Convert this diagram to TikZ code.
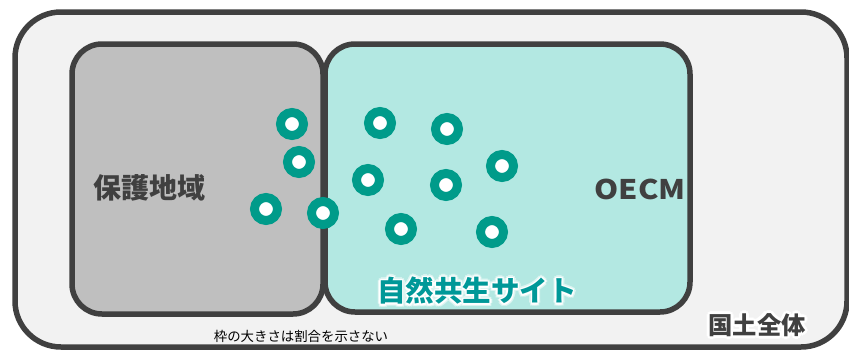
\documentclass[tikz,border=0pt]{standalone}
\usepackage{fontspec}
\setmainfont{Noto Sans CJK JP}
\newfontfamily\jp{Noto Sans CJK JP}
\definecolor{frame}{HTML}{404040}
\definecolor{bgout}{HTML}{F2F2F2}
\definecolor{pagray}{HTML}{BFBFBF}
\definecolor{oecmfill}{HTML}{B3E8E2}
\definecolor{dotteal}{HTML}{009B8A}
\definecolor{textteal}{HTML}{009898}
\colorlet{glowout}{white!55!oecmfill}
\newcommand\gshift[4]{\rlap{\kern#1pt\raisebox{#2pt}{\textcolor{#3}{#4}}}}
\newcommand\glowtext[4]{% #1 outer glow colour, #2 inner glow colour, #3 text colour, #4 text
  \gshift{3}{0}{#1}{#4}\gshift{-3}{0}{#1}{#4}\gshift{0}{3}{#1}{#4}\gshift{0}{-3}{#1}{#4}%
  \gshift{2.1}{2.1}{#1}{#4}\gshift{-2.1}{2.1}{#1}{#4}\gshift{2.1}{-2.1}{#1}{#4}\gshift{-2.1}{-2.1}{#1}{#4}%
  \gshift{1.6}{0}{#2}{#4}\gshift{-1.6}{0}{#2}{#4}\gshift{0}{1.6}{#2}{#4}\gshift{0}{-1.6}{#2}{#4}%
  \gshift{1.1}{1.1}{#2}{#4}\gshift{-1.1}{1.1}{#2}{#4}\gshift{1.1}{-1.1}{#2}{#4}\gshift{-1.1}{-1.1}{#2}{#4}%
  \textcolor{#3}{#4}}
\tikzset{
  areabox/.style={draw=frame, line width=5.5pt, rounded corners=#1},
  site/.style={circle, draw=dotteal, fill=white, line width=9pt, minimum size=23pt, inner sep=0pt},
  biglabel/.style={font=\jp\bfseries\fontsize{28}{30}\selectfont, text=frame, inner sep=0pt},
}
\begin{document}
\begin{tikzpicture}[x=1pt,y=-1pt]
\useasboundingbox (0,0) rectangle (849,351);
\fill[white] (0,0) rectangle (849,351);
% outer
\path[areabox=46, fill=bgout] (15,12) rectangle (847,347);
% protected area
\path[areabox=30, fill=pagray] (72,44) rectangle (323,314);
% OECM
\path[areabox=30, fill=oecmfill] (325,44) rectangle (690,312);
% labels
\node[biglabel] (pa) at (149,188) {保護地域};
\node[biglabel, font=\jp\bfseries\fontsize{27}{30}\selectfont, xscale=1.14] (oecm) at (640,189) {OECM};
\node[inner sep=0pt, font=\jp\bfseries\fontsize{28.5}{30}\selectfont] (site) at (477,291) {\glowtext{glowout}{white}{textteal}{自然共生サイト}};
\node[inner sep=0pt, font=\jp\bfseries\fontsize{24.3}{26}\selectfont] (nation) at (757,325) {\glowtext{white}{white}{frame}{国土全体}};
% note
\node[inner sep=0pt, font=\jp\fontsize{13.4}{15}\selectfont, text=black] (note) at (301,336) {枠の大きさは割合を示さない};
% sites
\node[site] (s1) at (292,124) {};
\node[site] (s2) at (380,123) {};
\node[site] (s3) at (447,129) {};
\node[site] (s4) at (299,162) {};
\node[site] (s5) at (368,180) {};
\node[site] (s6) at (446,185) {};
\node[site] (s7) at (502,166) {};
\node[site] (s8) at (266,209) {};
\node[site] (s9) at (323,213) {};
\node[site] (s10) at (401,229) {};
\node[site] (s11) at (492,232) {};
\end{tikzpicture}
\end{document}
